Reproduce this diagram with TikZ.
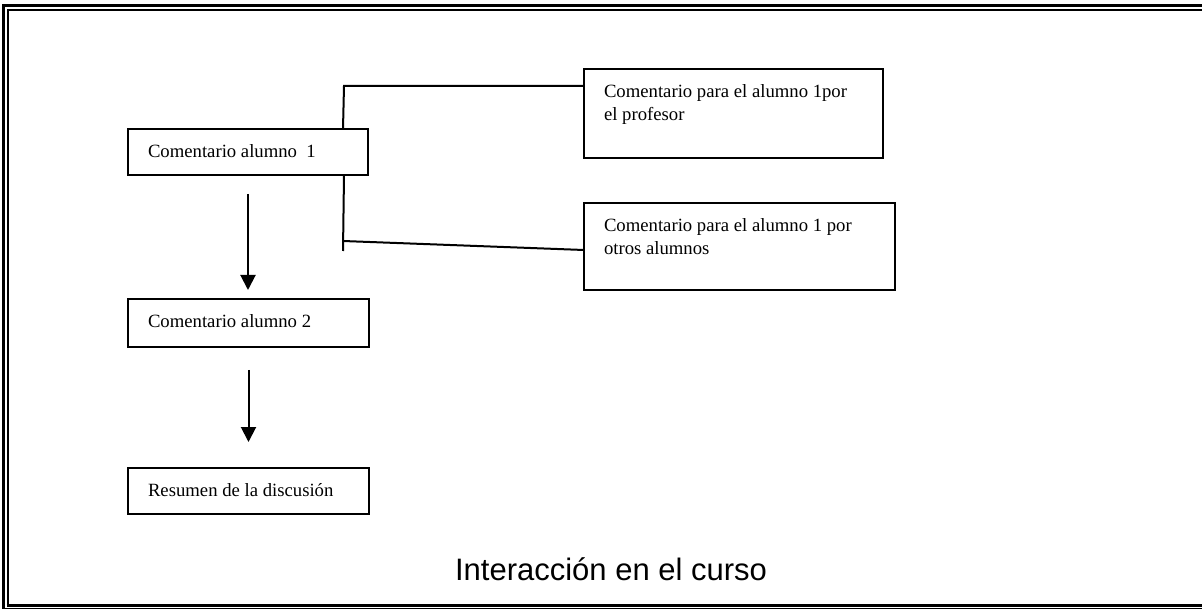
\documentclass[tikz,border=0pt]{standalone}
\usepackage{fontspec}
\setmainfont{Liberation Serif}
\newfontfamily\titlefont{Liberation Sans}
\usetikzlibrary{arrows.meta}
\newcommand\bxtext[3]{\parbox[c][#2pt][t]{#1pt}{\vspace*{15.8pt}\raggedright\leftskip=20pt\relax #3\par}}
\begin{document}
\begin{tikzpicture}[x=1pt,y=-1pt,
  tbox/.style={draw, line width=2pt, inner sep=0pt, outer sep=0pt, anchor=north west},
  arr/.style={line width=2pt, -{Triangle[length=15pt,width=15pt]}},
  conn/.style={line width=2pt},
  font=\fontsize{18.7}{23}\selectfont]
\useasboundingbox (0,0) rectangle (1202,609);
% page frame
\draw[line width=3.5pt] (1202,5.5) -- (3.5,5.5) -- (3.5,609);
\draw[line width=1.7pt] (1202,10) -- (8,10) -- (8,604);
\draw[line width=3pt] (6.5,605.3) -- (1202,605.3);
\draw[line width=1.5pt] (2,608.5) -- (1202,608.5);
% boxes
\node[tbox] (b1) at (128,129) {\bxtext{240}{46}{Comentario alumno\ \ 1}};
\node[tbox] (b2) at (128,299) {\bxtext{241}{48}{Comentario alumno 2}};
\node[tbox] (b3) at (128,468) {\bxtext{241}{46}{Resumen de la discusión}};
\node[tbox] (prof) at (584,69) {\bxtext{299}{89}{Comentario para el alumno 1por\\el profesor}};
\node[tbox] (otros) at (584,203) {\bxtext{311}{87}{Comentario para el alumno 1 por\\otros alumnos}};
% connectors
\coordinate (k1) at (344,86);
\draw[conn] ([xshift=215pt]b1.north west) -- (k1) -- (k1 -| prof.west);
\coordinate (k2) at (343,251);
\draw[conn] ([xshift=216pt]b1.south west) -- (k2);
\coordinate (k3) at (343,241);
\draw[conn] (k3) -- ([yshift=-3.5pt]otros.west);
% arrows
\draw[arr, shorten <=19pt, shorten >=9pt] (b1.south) -- (b1.south |- b2.north);
\draw[arr, shorten <=23pt, shorten >=26pt] (b2.south) -- (b2.south |- b3.north);
% title
\node[font=\titlefont\fontsize{31}{36}\selectfont, anchor=base] (title) at (611,580) {Interacción en el curso};
\end{tikzpicture}
\end{document}
